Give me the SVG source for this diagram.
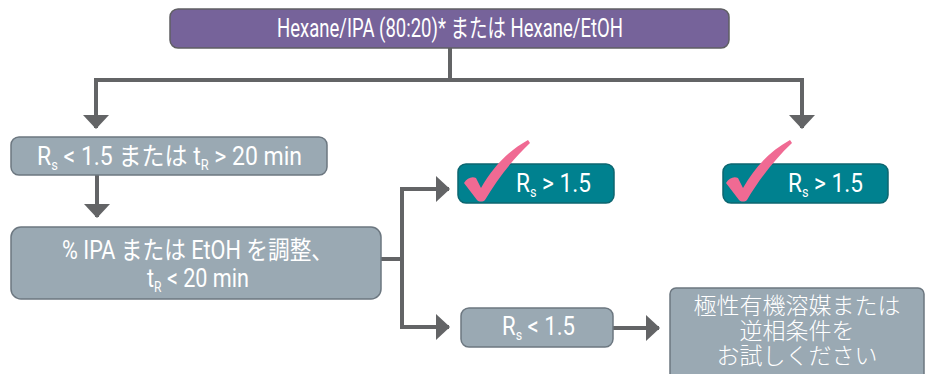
<svg xmlns="http://www.w3.org/2000/svg" width="931" height="374" viewBox="0 0 931 374">
<style>
text{font-family:Roboto,"Liberation Sans","Noto Sans CJK JP",sans-serif;fill:#ffffff;font-size:25px;font-weight:400}
.jp{font-family:"Noto Sans CJK JP","Liberation Sans",sans-serif;font-size:23px;font-weight:300}
.purple{fill:#76639a;stroke:#5f5f63;stroke-width:1.5}
.grey{fill:#9aa9b3;stroke:#6c7780;stroke-width:1.5}
.teal{fill:#00818f;stroke:#0c6670;stroke-width:1.5}
.conn{fill:none;stroke:#636466;stroke-width:4}
.check{fill:#f06a93}
.sub{font-size:14px}
</style>
<defs>
<marker id="arr" viewBox="0 0 14 26" markerWidth="14" markerHeight="26" refX="13" refY="13" orient="auto" markerUnits="userSpaceOnUse">
<path d="M0,0 L14,13 L0,26 Z" fill="#636466"/>
</marker>
<path id="chk" d="M464,183 C467,178 472,176 476,178 L481,188 C493,167 508,151 528,140 L530,143 C514,158 498,178 485,200 C483,202 479,202 477,200 Z"/>
</defs>
<g id="connectors">
<path class="conn" d="M450,48 V80 H96 V128" marker-end="url(#arr)"/>
<path class="conn" d="M448,80 H802 V128" marker-end="url(#arr)"/>
<path class="conn" d="M97,175 V217" marker-end="url(#arr)"/>
<path class="conn" d="M381,259 H402 V189 H449" marker-end="url(#arr)"/>
<path class="conn" d="M402,257 V327 H449" marker-end="url(#arr)"/>
<path class="conn" d="M613,328 H659" marker-end="url(#arr)"/>
</g>
<g id="start">
<rect class="purple" x="170" y="9" width="559" height="39" rx="8"/>
<text x="450" y="37" text-anchor="middle" textLength="346" lengthAdjust="spacingAndGlyphs">Hexane/IPA (80:20)* または Hexane/EtOH</text>
</g>
<g id="cond1">
<rect class="grey" x="11" y="137" width="316" height="38" rx="8"/>
<text x="37" y="165" textLength="265" lengthAdjust="spacingAndGlyphs">R<tspan class="sub" dy="5">s</tspan><tspan dy="-5"> &lt; 1.5 または t</tspan><tspan class="sub" dy="5">R</tspan><tspan dy="-5"> &gt; 20 min</tspan></text>
</g>
<g id="adjust">
<rect class="grey" x="11" y="227" width="370" height="72" rx="10"/>
<text x="62" y="259" textLength="271" lengthAdjust="spacingAndGlyphs">% IPA または EtOH を調整、</text>
<text x="147" y="287" textLength="102" lengthAdjust="spacingAndGlyphs">t<tspan class="sub" dy="5">R</tspan><tspan dy="-5"> &lt; 20 min</tspan></text>
</g>
<g id="ok1">
<rect class="teal" x="458" y="164" width="156" height="39" rx="8"/>
<use href="#chk" class="check"/>
<text x="516" y="192" textLength="75" lengthAdjust="spacingAndGlyphs">R<tspan class="sub" dy="5">s</tspan><tspan dy="-5"> &gt; 1.5</tspan></text>
</g>
<g id="ok2">
<rect class="teal" x="723" y="164" width="165" height="39" rx="8"/>
<use href="#chk" class="check" transform="translate(262,0)"/>
<text x="788" y="192" textLength="75" lengthAdjust="spacingAndGlyphs">R<tspan class="sub" dy="5">s</tspan><tspan dy="-5"> &gt; 1.5</tspan></text>
</g>
<g id="fail">
<rect class="grey" x="461" y="308" width="152" height="39" rx="8"/>
<text x="502" y="335" textLength="73" lengthAdjust="spacingAndGlyphs">R<tspan class="sub" dy="5">s</tspan><tspan dy="-5"> &lt; 1.5</tspan></text>
</g>
<g id="try">
<rect class="grey" x="670" y="288" width="254" height="100" rx="6"/>
<text class="jp" text-anchor="middle"><tspan x="797" y="314">極性有機溶媒または</tspan><tspan x="797" y="339">逆相条件を</tspan><tspan x="797" y="364">お試しください</tspan></text>
</g>
</svg>
